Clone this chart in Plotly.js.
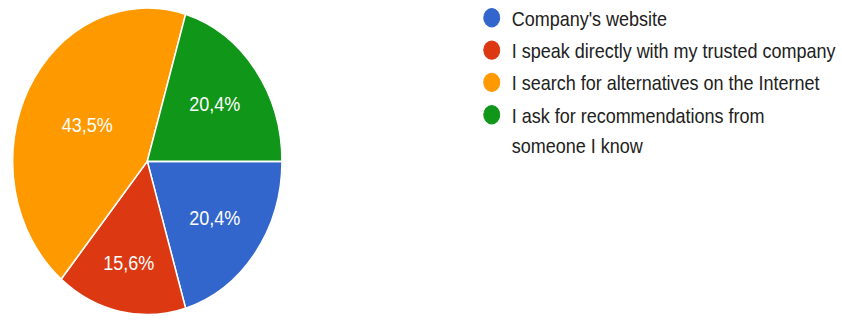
<!DOCTYPE html>
<html>
<head>
<meta charset="utf-8">
<script src="https://cdn.plot.ly/plotly-3.0.1.min.js"></script>
<style>
  html, body { margin: 0; padding: 0; background: #fff; overflow: hidden; }
  #wrap { width: 842px; height: 320px; overflow: hidden; position: relative; }
  #chart { position: absolute; left: 0; top: -3.4px; width: 842px; height: 284px; transform: scaleY(1.1388); transform-origin: 0 0; }
</style>
</head>
<body>
<div id="wrap"><div id="chart"></div></div>
<script>
const categories = [
  "Company's website",
  "I speak directly with my trusted company",
  "I search for alternatives on the Internet",
  "I ask for recommendations from someone I know"
];
// legend lines (the last category wraps onto two lines)
const legendLines = [
  ["Company's website"],
  ["I speak directly with my trusted company"],
  ["I search for alternatives on the Internet"],
  ["I ask for recommendations from", "someone I know"]
];
const responses = [30, 23, 64, 30];
const colors = ["#3366CC", "#DC3912", "#FF9900", "#109618"];

const H = 284;
const pieTrace = {
  type: 'pie',
  labels: categories,
  values: responses,
  sort: false,
  direction: 'clockwise',
  rotation: 90,
  marker: { colors: colors, line: { color: '#ffffff', width: 1.5 } },
  texttemplate: '%{percent:.1%}',
  textinfo: 'percent',
  textposition: 'inside',
  insidetextorientation: 'horizontal',
  textfont: { family: 'Arial, "Liberation Sans", sans-serif', size: 18, color: '#ffffff' },
  domain: { x: [12.7 / 842, 283.3 / 842], y: [1 - 279.6 / H, 1 - 8.9 / H] },
  showlegend: false,
  hoverinfo: 'label+percent'
};

const legendTraces = [];
legendLines.forEach((lines, i) => {
  lines.forEach((line, j) => {
    legendTraces.push({
      type: 'scatter',
      mode: 'markers',
      x: [null],
      y: [null],
      name: line,
      legendgroup: 'g' + i,
      marker: {
        symbol: 'circle', size: 16,
        color: j === 0 ? colors[i] : 'rgba(0,0,0,0)',
        line: { color: j === 0 ? colors[i] : 'rgba(0,0,0,0)', width: j === 0 ? 1 : 0 }
      },
      showlegend: true,
      hoverinfo: 'skip'
    });
  });
});

const layout = {
  width: 842,
  height: H,
  margin: { l: 0, r: 0, t: 0, b: 0 },
  paper_bgcolor: 'rgba(0,0,0,0)',
  plot_bgcolor: 'rgba(0,0,0,0)',
  separators: ',.',
  font: { family: 'Arial, "Liberation Sans", sans-serif', color: '#212121' },
  xaxis: { visible: false, domain: [0.9, 1] },
  yaxis: { visible: false, domain: [0.9, 1] },
  legend: {
    x: 474 / 842,
    xanchor: 'left',
    y: 1,
    yanchor: 'top',
    font: { size: 18, color: '#212121', family: 'Arial, "Liberation Sans", sans-serif' },
    traceorder: 'grouped',
    tracegroupgap: 2,
    bgcolor: 'rgba(0,0,0,0)',
    itemclick: false,
    itemdoubleclick: false
  },
  showlegend: true
};

Plotly.newPlot('chart', [pieTrace].concat(legendTraces), layout, { displayModeBar: false, staticPlot: true });
</script>
</body>
</html>
